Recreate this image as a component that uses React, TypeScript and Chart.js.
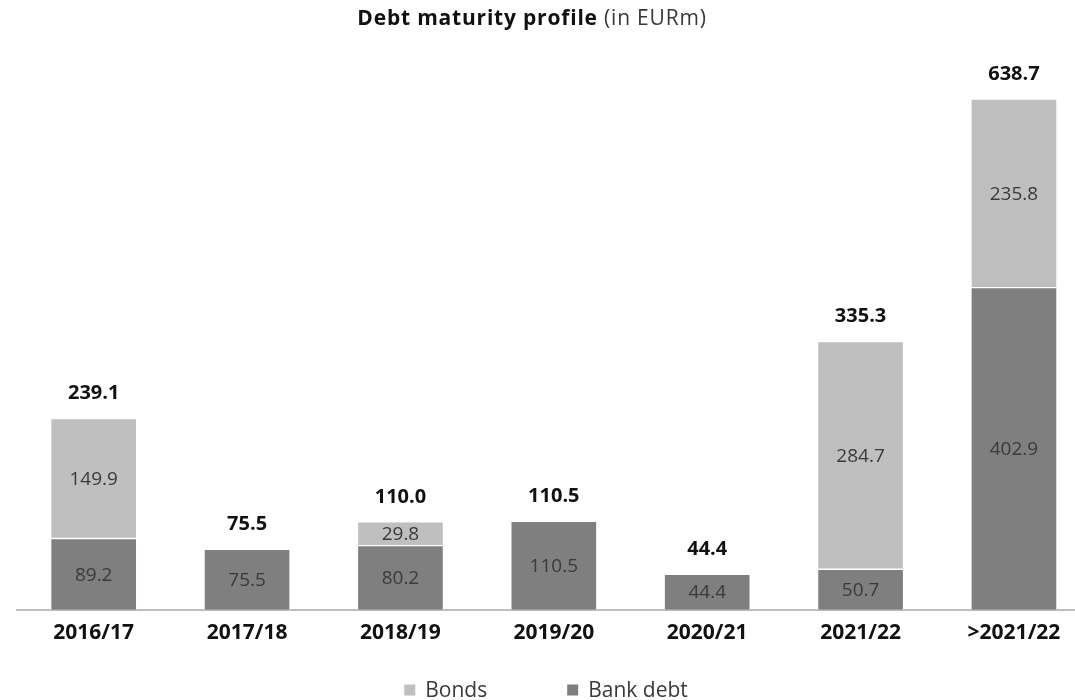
import React, { useEffect, useRef } from "react";
import { Chart, registerables } from "chart.js";

Chart.register(...registerables);

const categories = ["2016/17", "2017/18", "2018/19", "2019/20", "2020/21", "2021/22", ">2021/22"];
const bonds: (number | null)[] = [149.9, null, 29.8, null, null, 284.7, 235.8];
const bankDebt: (number | null)[] = [89.2, 75.5, 80.2, 110.5, 44.4, 50.7, 402.9];
const totals = [239.1, 75.5, 110.0, 110.5, 44.4, 335.3, 638.7];
const seriesNames = ["Bonds", "Bank debt"];
const seriesColors = ["#bfbfbf", "#7f7f7f"];
const titleBold = "Debt maturity profile";
const titleLight = " (in EURm)";

const FONT = "'Open Sans', 'DejaVu Sans', sans-serif";

const labelPlugin = {
  id: "customLabels",
  afterDatasetsDraw(chart: any) {
    const ctx = chart.ctx;
    ctx.save();
    ctx.textAlign = "center";
    ctx.textBaseline = "middle";
    ctx.font = `400 19px ${FONT}`;
    ctx.fillStyle = "#3a3a3a";
    chart.data.datasets.forEach((ds: any, di: number) => {
      const meta = chart.getDatasetMeta(di);
      meta.data.forEach((el: any, i: number) => {
        const v = ds.data[i].y;
        if (v === null || v === undefined) return;
        const { x, y, base } = el.getProps(["x", "y", "base"], true);
        ctx.fillText(v.toFixed(1), x, (y + base) / 2 + 1);
      });
    });
    const yScale = chart.scales.y;
    const xScale = chart.scales.x;
    ctx.font = `700 20px ${FONT}`;
    ctx.fillStyle = "#111111";
    totals.forEach((t, i) => {
      const x = xScale.getPixelForValue(i);
      const y = yScale.getPixelForValue(t) - 25;
      ctx.fillText(t.toFixed(1), x, y);
    });
    ctx.restore();
  },
  afterDraw(chart: any) {
    const ctx = chart.ctx;
    ctx.save();
    ctx.textBaseline = "middle";
    // title
    (ctx as any).letterSpacing = "0.8px";
    ctx.font = `700 21px ${FONT}`;
    const wb = ctx.measureText(titleBold).width;
    ctx.font = `400 21px ${FONT}`;
    const wl = ctx.measureText(titleLight).width;
    const cx = 532;
    const ty = 19;
    const x0 = cx - (wb + wl) / 2;
    ctx.textAlign = "left";
    ctx.fillStyle = "#111111";
    ctx.font = `700 21px ${FONT}`;
    ctx.fillText(titleBold, x0, ty);
    ctx.fillStyle = "#3a3a3a";
    ctx.font = `400 21px ${FONT}`;
    ctx.fillText(titleLight, x0 + wb, ty);
    (ctx as any).letterSpacing = "0px";
    // legend
    ctx.font = `400 21px ${FONT}`;
    const box = 11;
    const gap = 10;
    const itemGap = 80;
    const widths = seriesNames.map((n) => box + gap + ctx.measureText(n).width);
    const total = widths.reduce((a, b) => a + b, 0) + itemGap * (seriesNames.length - 1);
    let lx = 546 - total / 2;
    const ly = 690;
    seriesNames.forEach((n, i) => {
      ctx.fillStyle = seriesColors[i];
      ctx.fillRect(lx, ly - box / 2, box, box);
      ctx.fillStyle = "#3a3a3a";
      ctx.fillText(n, lx + box + gap, ly + 1);
      lx += widths[i] + itemGap;
    });
    ctx.restore();
  },
};

export default function App() {
  const ref = useRef<HTMLCanvasElement | null>(null);
  useEffect(() => {
    document.body.style.margin = "0";
    const canvas = ref.current;
    if (!canvas) return;
    const chart = new Chart(canvas, {
      type: "bar",
      data: {
        datasets: [
          {
            label: seriesNames[1],
            data: bankDebt.map((v, i) => ({ x: i, y: v })),
            backgroundColor: seriesColors[1],
            borderColor: "#ffffff",
            borderWidth: 1,
            borderSkipped: "bottom",
            barThickness: 86,
            stack: "s",
          },
          {
            label: seriesNames[0],
            data: bonds.map((v, i) => ({ x: i, y: v })),
            backgroundColor: seriesColors[0],
            borderColor: "#ffffff",
            borderWidth: 1,
            borderSkipped: false,
            barThickness: 86,
            stack: "s",
          },
        ] as any,
      },
      options: {
        responsive: false,
        animation: false,
        layout: { padding: { left: 17, right: 0, top: 50, bottom: 43 } },
        plugins: {
          legend: { display: false },
          title: { display: false },
          tooltip: { enabled: false },
        },
        scales: {
          x: {
            type: "linear",
            stacked: true,
            offset: false,
            min: -0.5,
            max: 6.398,
            grid: { display: false, drawTicks: false, offset: false },
            border: { display: true, color: "#bdbdbd", width: 2 },
            afterBuildTicks: (axis: any) => {
              axis.ticks = categories.map((_, i) => ({ value: i }));
            },
            ticks: {
              padding: 11,
              autoSkip: false,
              maxRotation: 0,
              color: "#111111",
              font: { family: FONT, size: 21, weight: "bold" },
              callback: (v: any) => categories[v as number] ?? "",
            },
          },
          y: {
            display: false,
            stacked: true,
            min: 0,
            max: 700,
          },
        },
      } as any,
      plugins: [labelPlugin],
    });
    return () => chart.destroy();
  }, []);
  return (
    <div style={{ width: 1075, height: 700 }}>
      <canvas ref={ref} width={1075} height={700} style={{ display: "block" }} />
    </div>
  );
}
